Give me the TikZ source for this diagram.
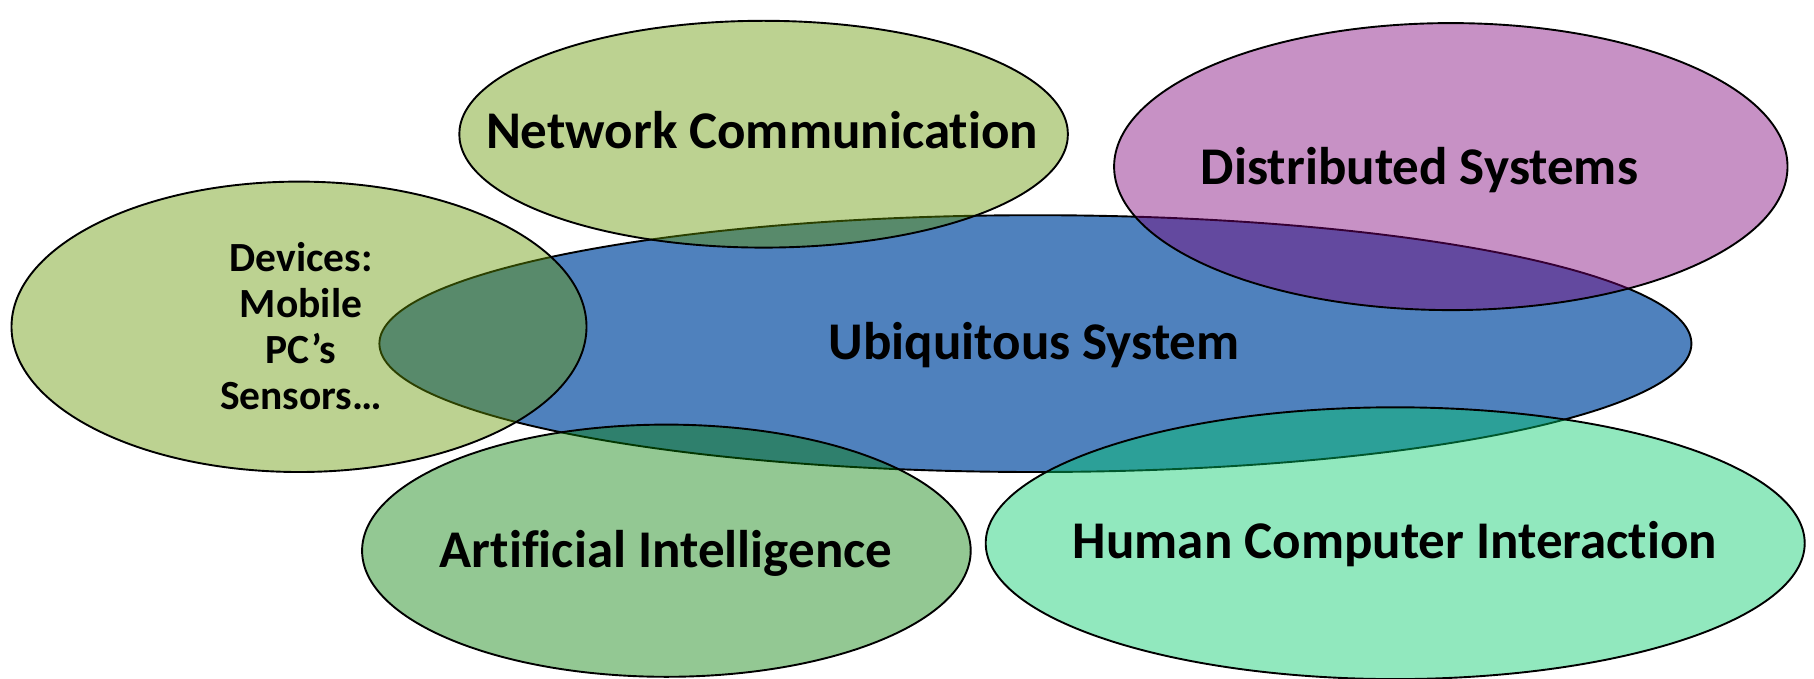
\documentclass[tikz,border=0pt]{standalone}
\usepackage{fontspec}
\setmainfont{Carlito}[Ligatures={NoCommon}]
\usetikzlibrary{shapes.geometric}
\definecolor{ubblue}{RGB}{79,129,189}
\definecolor{olivegr}{RGB}{100,150,0}
\definecolor{purp}{RGB}{126,0,121}
\definecolor{aigreen}{RGB}{5,128,5}
\definecolor{hcigreen}{RGB}{0,202,105}
\tikzset{
  blob/.style={ellipse, draw=black, line width=1.9pt, inner sep=0pt, outer sep=0pt},
  tblob/.style={blob, fill opacity=0.43},
  biglabel/.style={font=\fontsize{53}{60}\selectfont\bfseries, text=black, inner sep=0pt},
  smalllabel/.style={font=\fontsize{41.5}{46}\selectfont\bfseries, text=black, align=center, inner sep=0pt}
}
\begin{document}
\begin{tikzpicture}[x=1pt,y=-1pt]
\useasboundingbox (0,0) rectangle (1814,679);
\node[blob, fill=ubblue, minimum width=1312pt, minimum height=256.8pt] (ubi) at (1035.4,343.6) {};
\node[tblob, fill=olivegr, minimum width=608.6pt, minimum height=226.8pt] (net) at (763.6,134.2) {};
\node[tblob, fill=purp, minimum width=673.4pt, minimum height=287pt] (dist) at (1450.8,166.6) {};
\node[tblob, fill=olivegr, minimum width=575pt, minimum height=290.4pt] (dev) at (299,326.8) {};
\node[tblob, fill=aigreen, minimum width=608.6pt, minimum height=252.2pt] (ai) at (666.4,550.7) {};
\node[tblob, fill=hcigreen, minimum width=819pt, minimum height=271.8pt] (hci) at (1395.2,543.2) {};
\node[biglabel] (tubi) at (1034,345) {Ubiquitous System};
\node[biglabel] (tnet) at (762,130) {Network Communication};
\node[biglabel] (tdist) at (1419.5,170) {Distributed Systems};
\node[biglabel] (tai) at (666,553) {Artificial Intelligence};
\node[biglabel] (thci) at (1395,544) {Human Computer Interaction};
\node[smalllabel] (tdev) at (301,326) {Devices:\\Mobile\\PC’s\\Sensors…};
\end{tikzpicture}
\end{document}
